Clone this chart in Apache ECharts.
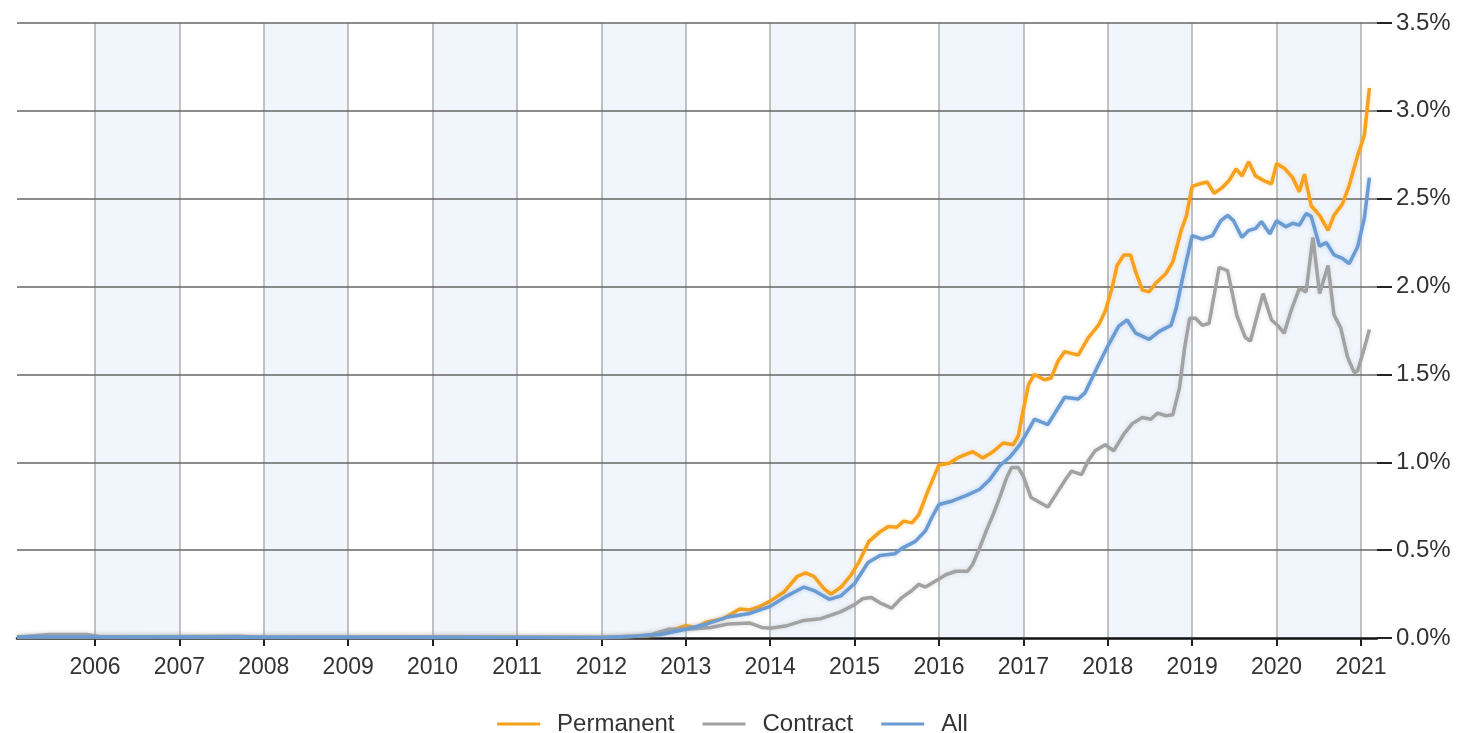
<!DOCTYPE html>
<html>
<head>
<meta charset="utf-8">
<script src="https://cdn.jsdelivr.net/npm/echarts@6/dist/echarts.min.js"></script>
<style>
html,body{margin:0;padding:0;background:#fff;}
#chart{width:1465px;height:733px;}
</style>
</head>
<body>
<div id="chart"></div>
<script>
// x values are decimal years, y values are percentages
const seriesNames = ['Permanent', 'Contract', 'All'];
const xRange = [2005.076, 2021.19];
const yTicks = [0, 0.5, 1.0, 1.5, 2.0, 2.5, 3.0, 3.5];

const permanent = [
  [2005.076,0.005],[2006.0,0.005],[2008.0,0.004],[2010.0,0.005],[2012.0,0.003],[2012.2,0.005],
  [2012.4,0.01],[2012.56,0.012],[2012.76,0.03],[2013.0,0.07],[2013.12,0.06],[2013.24,0.09],
  [2013.44,0.11],[2013.64,0.165],[2013.76,0.16],[2013.88,0.18],[2014.0,0.21],[2014.16,0.26],
  [2014.32,0.35],[2014.42,0.37],[2014.52,0.35],[2014.64,0.28],[2014.72,0.25],[2014.84,0.29],
  [2014.96,0.36],[2015.05,0.43],[2015.17,0.55],[2015.29,0.60],[2015.4,0.635],[2015.5,0.63],
  [2015.58,0.665],[2015.68,0.655],[2015.76,0.70],[2015.88,0.85],[2016.0,0.985],[2016.12,0.995],
  [2016.24,1.03],[2016.4,1.06],[2016.52,1.025],[2016.64,1.06],[2016.76,1.11],[2016.88,1.10],
  [2016.94,1.15],[2017.0,1.3],[2017.06,1.44],[2017.13,1.50],[2017.25,1.47],[2017.33,1.48],
  [2017.41,1.575],[2017.49,1.63],[2017.65,1.61],[2017.77,1.71],[2017.89,1.78],[2017.97,1.86],
  [2018.05,1.99],[2018.11,2.12],[2018.19,2.18],[2018.27,2.18],[2018.33,2.085],[2018.41,1.98],
  [2018.49,1.97],[2018.57,2.02],[2018.69,2.075],[2018.77,2.14],[2018.87,2.32],[2018.93,2.40],
  [2019.0,2.57],[2019.09,2.585],[2019.18,2.595],[2019.26,2.53],[2019.36,2.565],[2019.44,2.605],
  [2019.52,2.67],[2019.59,2.63],[2019.67,2.71],[2019.75,2.63],[2019.84,2.605],[2019.94,2.585],
  [2020.0,2.70],[2020.1,2.67],[2020.19,2.62],[2020.27,2.54],[2020.33,2.64],[2020.41,2.46],
  [2020.51,2.405],[2020.61,2.32],[2020.68,2.405],[2020.78,2.47],[2020.86,2.575],[2020.96,2.745],
  [2021.04,2.86],[2021.1,3.13]
];

const contract = [
  [2005.076,0.005],[2005.45,0.02],[2005.9,0.02],[2006.1,0.005],[2007.7,0.01],[2007.9,0.005],
  [2010.0,0.005],[2012.0,0.003],[2012.4,0.01],[2012.6,0.02],[2012.8,0.05],[2013.0,0.05],
  [2013.3,0.06],[2013.5,0.08],[2013.76,0.085],[2013.9,0.06],[2014.0,0.055],[2014.2,0.07],
  [2014.4,0.1],[2014.6,0.11],[2014.84,0.15],[2015.0,0.19],[2015.1,0.225],[2015.2,0.23],
  [2015.3,0.2],[2015.44,0.17],[2015.56,0.23],[2015.68,0.27],[2015.76,0.305],[2015.84,0.29],
  [2015.96,0.325],[2016.08,0.36],[2016.2,0.38],[2016.34,0.38],[2016.4,0.42],[2016.48,0.51],
  [2016.56,0.61],[2016.64,0.70],[2016.72,0.80],[2016.8,0.91],[2016.86,0.97],[2016.94,0.97],
  [2017.0,0.92],[2017.09,0.80],[2017.29,0.745],[2017.39,0.82],[2017.49,0.895],[2017.57,0.95],
  [2017.69,0.93],[2017.77,1.01],[2017.85,1.065],[2017.97,1.10],[2018.07,1.065],[2018.19,1.16],
  [2018.29,1.22],[2018.41,1.255],[2018.51,1.245],[2018.59,1.28],[2018.69,1.265],[2018.77,1.27],
  [2018.85,1.425],[2018.91,1.65],[2018.97,1.82],[2019.04,1.82],[2019.12,1.78],[2019.2,1.79],
  [2019.32,2.11],[2019.42,2.09],[2019.53,1.835],[2019.63,1.71],[2019.69,1.69],[2019.84,1.96],
  [2019.94,1.81],[2020.01,1.78],[2020.09,1.735],[2020.17,1.86],[2020.27,1.99],[2020.35,1.97],
  [2020.43,2.28],[2020.51,1.96],[2020.61,2.12],[2020.68,1.84],[2020.76,1.765],[2020.84,1.60],
  [2020.92,1.51],[2020.96,1.52],[2021.04,1.65],[2021.1,1.755]
];

const all = [
  [2005.076,0.005],[2008.0,0.004],[2012.0,0.003],[2012.4,0.01],[2012.7,0.02],[2013.0,0.05],
  [2013.25,0.08],[2013.5,0.12],[2013.76,0.14],[2014.0,0.18],[2014.2,0.24],[2014.4,0.29],
  [2014.52,0.27],[2014.7,0.22],[2014.84,0.24],[2015.0,0.31],[2015.16,0.43],[2015.3,0.47],
  [2015.48,0.48],[2015.56,0.51],[2015.72,0.55],[2015.84,0.61],[2015.92,0.69],[2016.0,0.76],
  [2016.16,0.78],[2016.32,0.81],[2016.48,0.845],[2016.6,0.90],[2016.72,0.98],[2016.84,1.03],
  [2016.96,1.10],[2017.08,1.2],[2017.13,1.245],[2017.29,1.215],[2017.49,1.37],[2017.65,1.36],
  [2017.73,1.395],[2017.89,1.555],[2018.01,1.67],[2018.13,1.775],[2018.23,1.81],[2018.33,1.735],
  [2018.49,1.70],[2018.61,1.745],[2018.75,1.78],[2018.81,1.875],[2018.91,2.10],[2019.0,2.29],
  [2019.12,2.27],[2019.24,2.29],[2019.34,2.375],[2019.42,2.405],[2019.49,2.375],[2019.59,2.28],
  [2019.67,2.32],[2019.75,2.33],[2019.82,2.37],[2019.92,2.30],[2020.0,2.375],[2020.11,2.34],
  [2020.19,2.36],[2020.27,2.35],[2020.35,2.415],[2020.41,2.40],[2020.51,2.23],[2020.59,2.25],
  [2020.68,2.18],[2020.78,2.16],[2020.86,2.13],[2020.96,2.225],[2021.04,2.39],[2021.1,2.62]
];

const colors = ['#f7a11c', '#a2a2a2', '#6a9bd2'];
const FONT = '"Liberation Sans", Arial, sans-serif';

const chart = echarts.init(document.getElementById('chart'), null, {renderer: 'canvas'});

function lineSeries(name, data, color, shadow) {
  return {
    name: name,
    type: 'line',
    data: data,
    showSymbol: false,
    symbol: 'none',
    smooth: false,
    z: 3,
    lineStyle: {
      color: color,
      width: 3.5,
      shadowColor: shadow,
      shadowBlur: 4
    },
    itemStyle: {color: color},
    emphasis: {disabled: true},
    animation: false
  };
}

chart.setOption({
  animation: false,
  backgroundColor: '#ffffff',
  color: colors,
  grid: {left: 17, right: 88, top: 23, bottom: 95, containLabel: false},
  legend: {
    data: seriesNames,
    left: 'center',
    top: 707,
    icon: 'rect',
    itemWidth: 43,
    itemHeight: 3,
    itemGap: 28,
    textStyle: {fontFamily: FONT, fontSize: 24, color: '#333', padding: [0, 0, 0, 12]}
  },
  xAxis: {
    type: 'value',
    z: 0,
    min: xRange[0],
    max: xRange[1],
    splitNumber: 16,
    minInterval: 1,
    maxInterval: 1,
    axisLine: {show: true, onZero: true, lineStyle: {color: '#111', width: 2.5}},
    axisTick: {show: true, length: 8, lineStyle: {color: '#222', width: 2}},
    axisLabel: {
      show: true,
      margin: 18,
      showMinLabel: false,
      showMaxLabel: false,
      fontFamily: FONT,
      fontSize: 23,
      color: '#333',
      formatter: function (v) {
        const r = Math.round(v);
        return Math.abs(v - r) < 1e-6 ? String(r) : '';
      }
    },
    splitLine: {show: true, showMinLine: false, showMaxLine: false, lineStyle: {color: '#aeaeae', width: 1.5}},
    splitArea: {show: true, areaStyle: {color: ['rgba(255,255,255,0)', '#f1f6fd']}}
  },
  yAxis: {
    type: 'value',
    position: 'right',
    z: 1,
    min: yTicks[0],
    max: yTicks[yTicks.length - 1],
    interval: 0.5,
    axisLine: {show: false},
    axisTick: {show: true, length: 15, lineStyle: {color: '#222', width: 2}},
    axisLabel: {
      margin: 19,
      fontFamily: FONT,
      fontSize: 24,
      color: '#333',
      formatter: function (v) { return v.toFixed(1) + '%'; }
    },
    splitLine: {show: true, showMinLine: false, lineStyle: {color: '#666666', width: 1.6}}
  },
  series: [
    lineSeries(seriesNames[0], permanent, colors[0], 'rgba(247,161,28,0.35)'),
    lineSeries(seriesNames[1], contract, colors[1], 'rgba(150,150,150,0.3)'),
    lineSeries(seriesNames[2], all, colors[2], 'rgba(106,155,210,0.45)')
  ]
});
</script>
</body>
</html>
